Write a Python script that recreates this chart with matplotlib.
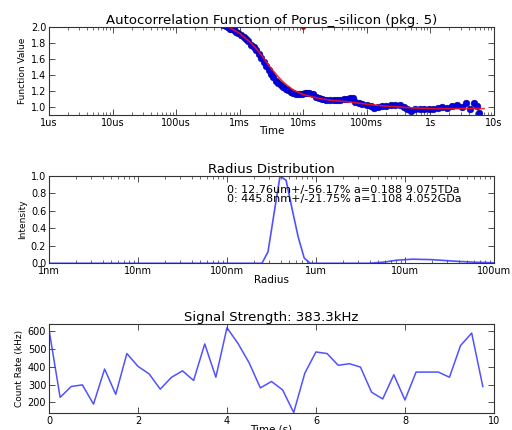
import matplotlib
matplotlib.use("Agg")
import matplotlib.pyplot as plt
import numpy as np

# autocorrelation data (time in s)
acf_t = [0.00055, 0.00060, 0.00065, 0.00070, 0.00075, 0.00080, 0.00088, 0.00095,
         0.00105, 0.00115, 0.00125, 0.00135, 0.00150, 0.00165, 0.00180, 0.00200,
         0.00220, 0.00240, 0.00260, 0.00285, 0.00310, 0.00340, 0.00370, 0.00400,
         0.00440, 0.00480, 0.00530, 0.00580, 0.00640, 0.00700, 0.00780, 0.00860,
         0.00950, 0.0105, 0.0115, 0.0125, 0.0140, 0.0160, 0.0180, 0.0200,
         0.0230, 0.0260, 0.0300, 0.0340, 0.0380, 0.0430, 0.0480, 0.0540,
         0.0600, 0.0660, 0.0750, 0.0850, 0.100, 0.115, 0.130, 0.150,
         0.175, 0.200, 0.240, 0.280, 0.330, 0.380, 0.430, 0.500,
         0.580, 0.680, 0.800, 0.950, 1.10, 1.30, 1.55, 1.85,
         2.20, 2.60, 3.10, 3.60, 4.20, 4.90, 5.40, 5.90]
acf_v = [2.03, 2.01, 2.00, 1.98, 1.97, 1.96, 1.94, 1.92,
         1.90, 1.88, 1.85, 1.82, 1.78, 1.75, 1.71, 1.66,
         1.61, 1.56, 1.51, 1.46, 1.41, 1.37, 1.33, 1.30,
         1.27, 1.245, 1.225, 1.21, 1.19, 1.175, 1.165, 1.16,
         1.16, 1.175, 1.18, 1.175, 1.16, 1.13, 1.11, 1.095,
         1.09, 1.09, 1.09, 1.085, 1.09, 1.10, 1.10, 1.11,
         1.115, 1.06, 1.05, 1.04, 1.03, 1.01, 0.99, 1.00,
         1.01, 1.01, 1.02, 1.02, 1.03, 1.00, 0.98, 0.95,
         0.97, 0.98, 0.98, 0.97, 0.98, 0.985, 1.00, 0.99,
         1.01, 1.02, 1.00, 1.05, 0.97, 1.05, 1.01, 0.92]

# fitted curve
fit_t = [0.0005, 0.0007, 0.001, 0.0015, 0.002, 0.003, 0.004, 0.005, 0.007,
         0.01, 0.015, 0.02, 0.03, 0.05, 0.1, 0.2, 0.5, 1.0, 2.0, 5.0, 7.0]
fit_v = [2.03, 1.99, 1.92, 1.80, 1.69, 1.50, 1.38, 1.30, 1.21,
         1.155, 1.12, 1.10, 1.08, 1.065, 1.035, 1.01, 0.99, 0.98, 0.98, 0.98, 0.98]

# radius distribution (radius in m)
rad_r = [1e-9, 247e-9, 289e-9, 338e-9, 395e-9, 462e-9, 540e-9, 632e-9, 738e-9,
         863e-9, 1e-6, 4e-6, 6e-6, 8e-6, 12e-6, 20e-6, 35e-6, 60e-6, 100e-6]
rad_i = [0.0, 0.0, 0.13, 0.57, 1.0, 0.95, 0.62, 0.30, 0.06,
         0.0, 0.0, 0.0, 0.015, 0.035, 0.047, 0.042, 0.025, 0.012, 0.006]

# signal strength (kHz every 0.25 s)
sig_t = [0.0, 0.25, 0.5, 0.75, 1.0, 1.25, 1.5, 1.75, 2.0, 2.25, 2.5, 2.75, 3.0, 3.25,
         3.5, 3.75, 4.0, 4.25, 4.5, 4.75, 5.0, 5.25, 5.5, 5.75, 6.0, 6.25, 6.5, 6.75,
         7.0, 7.25, 7.5, 7.75, 8.0, 8.25, 8.5, 8.75, 9.0, 9.25, 9.5, 9.75]
sig_v = [609, 228, 289, 298, 190, 387, 245, 474, 402, 360, 274, 340, 377, 323,
         528, 341, 619, 530, 421, 281, 317, 270, 143, 364, 483, 474, 408, 417,
         398, 257, 219, 355, 213, 370, 370, 370, 341, 519, 589, 289]

acf_ticks = [1e-6, 1e-5, 1e-4, 1e-3, 1e-2, 1e-1, 1, 10]
acf_labels = ["1us", "10us", "100us", "1ms", "10ms", "100ms", "1s", "10s"]
rad_ticks = [1e-9, 1e-8, 1e-7, 1e-6, 1e-5, 1e-4]
rad_labels = ["1nm", "10nm", "100nm", "1um", "10um", "100um"]

TICK = 7
LAB = 7.5
YLAB = 6.5
TIT = 9.5


def style(ax):
    for s in ax.spines.values():
        s.set_color("#333333")
        s.set_linewidth(0.8)
    ax.tick_params(which="both", direction="in", top=True, right=True,
                   labelsize=TICK, colors="#333333", labelcolor="black", pad=2)
    ax.tick_params(which="major", length=4, width=0.6)
    ax.tick_params(which="minor", length=2, width=0.5)


fig = plt.figure(figsize=(5.12, 4.3), dpi=100)

ax1 = fig.add_axes([0.0957, 0.7326, 0.869, 0.2047])
ax1.plot(acf_t, acf_v, "o", color="#0000ee", ms=4.8, mec="#000080", mew=0.4)
ax1.plot(fit_t, fit_v, "-", color="#ff1010", lw=1.2, alpha=0.85)
ax1.plot([0.01], [2.0], "o", color="#cc0000", ms=2.5)
ax1.set_xscale("log")
ax1.set_xlim(1e-6, 10)
ax1.set_ylim(0.9, 2.0)
ax1.set_xticks(acf_ticks)
ax1.set_xticklabels(acf_labels)
ax1.set_yticks([1.0, 1.2, 1.4, 1.6, 1.8, 2.0])
ax1.set_title("Autocorrelation Function of Porus_-silicon (pkg. 5)", fontsize=TIT, pad=2)
ax1.set_xlabel("Time", fontsize=LAB, labelpad=-1)
ax1.set_ylabel("Function Value", fontsize=YLAB, labelpad=3)
style(ax1)

ax2 = fig.add_axes([0.0957, 0.3877, 0.869, 0.203])
ax2.plot(rad_r, rad_i, "-", color="#3333ff", lw=1.2, alpha=0.85)
ax2.set_xscale("log")
ax2.set_xlim(1e-9, 1e-4)
ax2.set_ylim(0.0, 1.0)
ax2.set_xticks(rad_ticks)
ax2.set_xticklabels(rad_labels)
ax2.set_yticks([0.0, 0.2, 0.4, 0.6, 0.8, 1.0])
ax2.text(1e-7, 0.84, "0: 12.76um+/-56.17% a=0.188 9.075TDa", fontsize=8, va="center")
ax2.text(1e-7, 0.735, "0: 445.8nm+/-21.75% a=1.108 4.052GDa", fontsize=8, va="center")
ax2.set_title("Radius Distribution", fontsize=TIT, pad=2)
ax2.set_xlabel("Radius", fontsize=LAB, labelpad=-1)
ax2.set_ylabel("Intensity", fontsize=YLAB, labelpad=3)
style(ax2)

ax3 = fig.add_axes([0.0957, 0.0395, 0.869, 0.207])
ax3.plot(sig_t, sig_v, "-", color="#3333ff", lw=1.1, alpha=0.85)
ax3.set_xlim(0, 10)
ax3.set_ylim(140, 640)
ax3.set_xticks([0, 2, 4, 6, 8, 10])
ax3.set_yticks([200, 300, 400, 500, 600])
ax3.set_title("Signal Strength: 383.3kHz", fontsize=TIT, pad=2)
ax3.set_xlabel("Time (s)", fontsize=LAB, labelpad=-1)
ax3.set_ylabel("Count Rate (kHz)", fontsize=YLAB, labelpad=3)
style(ax3)

fig.savefig("out.png", dpi=100)
plt.close(fig)
